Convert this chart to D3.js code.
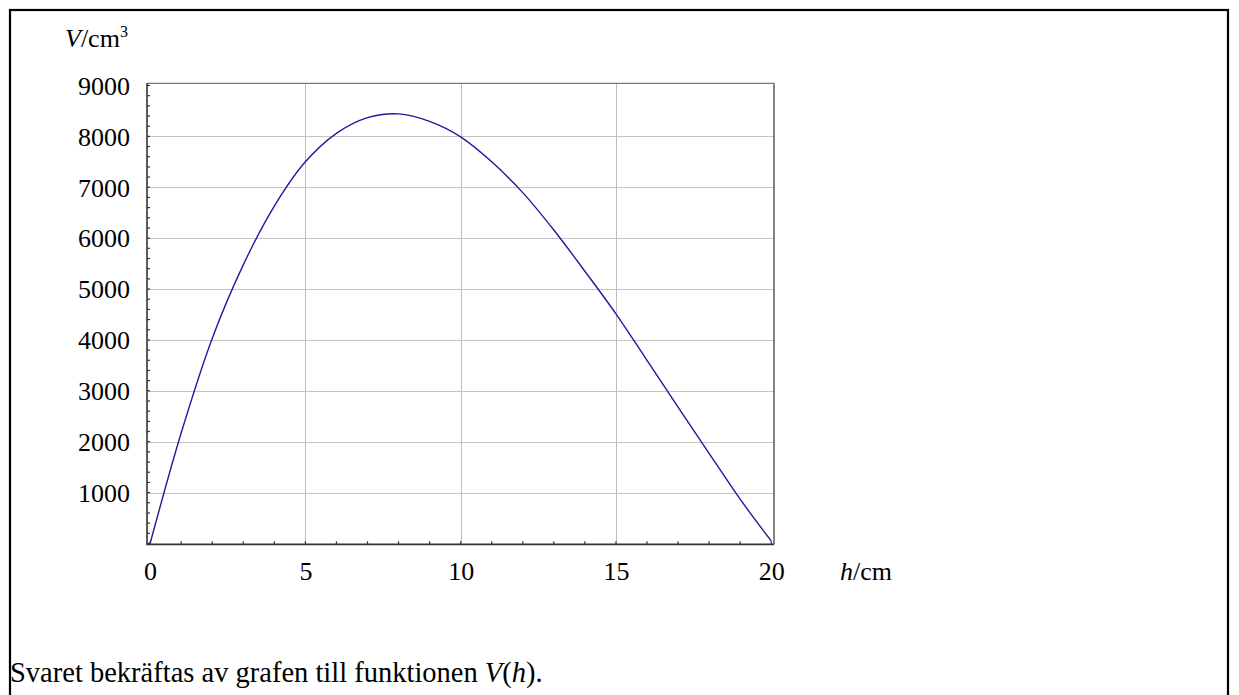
<!DOCTYPE html>
<html>
<head>
<meta charset="utf-8">
<script src="https://cdn.jsdelivr.net/npm/d3@7"></script>
<style>
  html, body { margin: 0; padding: 0; background: #fff; }
  svg { display: block; }
  text { font-family: "Liberation Serif", "Times New Roman", serif; fill: #000; }
</style>
</head>
<body>
<svg id="chart" width="1239" height="695"></svg>
<script>
// Volume V (cm^3) as a function of height h (cm)
const hValues = [0, 1, 2, 3, 4, 5, 6, 7, 8, 9, 10, 11, 12, 13, 14, 15, 16, 17, 18, 19, 20];
const vValues = [0, 2170, 4030, 5475, 6630, 7500, 8060, 8369, 8443, 8295, 7990, 7500, 6895, 6160, 5350, 4513, 3600, 2680, 1770, 870, 50];

const xTickValues = [0, 5, 10, 15, 20];
const yTickValues = [1000, 2000, 3000, 4000, 5000, 6000, 7000, 8000, 9000];
const xMinorTicks = d3.range(0, 21, 1);
const yMinorTicks = d3.range(0, 9001, 200);

const xLabel = "h";
const xUnit = "/cm";
const yLabel = "V";
const yUnit = "/cm";
const caption = "Svaret bekräftas av grafen till funktionen ";

const svg = d3.select("#chart");

// outer frame
svg.append("rect")
  .attr("x", 10).attr("y", 10)
  .attr("width", 1218).attr("height", 700)
  .attr("fill", "none").attr("stroke", "#000").attr("stroke-width", 2.2);

const plot = { left: 147, right: 774, top: 83.3, bottom: 544.3 };

const x = d3.scaleLinear().domain([-0.1, 20.09]).range([plot.left, plot.right]);
const y = d3.scaleLinear().domain([-16, 9043]).range([plot.bottom, plot.top]);

// grid
const grid = svg.append("g");
grid.selectAll("line.gx").data(xTickValues.filter(d => d > 0 && d < 20)).join("line")
  .attr("x1", d => Math.round(x(d)) + 0.5).attr("x2", d => Math.round(x(d)) + 0.5)
  .attr("y1", plot.top).attr("y2", plot.bottom)
  .attr("stroke", "#bdbdbd").attr("stroke-width", 1);
grid.selectAll("line.gy").data(yTickValues.filter(d => d < 9000)).join("line")
  .attr("y1", d => Math.round(y(d)) + 0.5).attr("y2", d => Math.round(y(d)) + 0.5)
  .attr("x1", plot.left).attr("x2", plot.right)
  .attr("stroke", "#c4c4c4").attr("stroke-width", 1.2);

// plot frame: top and right thin
svg.append("line").attr("x1", plot.left).attr("x2", plot.right)
  .attr("y1", plot.top).attr("y2", plot.top).attr("stroke", "#555").attr("stroke-width", 1);
svg.append("line").attr("x1", plot.right).attr("x2", plot.right)
  .attr("y1", plot.top).attr("y2", plot.bottom).attr("stroke", "#333").attr("stroke-width", 1.2);

// minor ticks along the axes, pointing into the plot
svg.append("g").selectAll("line").data(xMinorTicks).join("line")
  .attr("x1", d => x(d)).attr("x2", d => x(d))
  .attr("y1", plot.bottom).attr("y2", plot.bottom - 3)
  .attr("stroke", "#333").attr("stroke-width", 1.2);
svg.append("g").selectAll("line").data(yMinorTicks).join("line")
  .attr("y1", d => y(d)).attr("y2", d => y(d))
  .attr("x1", plot.left).attr("x2", plot.left + 3)
  .attr("stroke", "#333").attr("stroke-width", 1.2);

// axes lines (left and bottom)
svg.append("line").attr("x1", plot.left).attr("x2", plot.left)
  .attr("y1", plot.top).attr("y2", plot.bottom + 1).attr("stroke", "#333").attr("stroke-width", 1.6);
svg.append("line").attr("x1", plot.left).attr("x2", plot.right)
  .attr("y1", plot.bottom).attr("y2", plot.bottom).attr("stroke", "#333").attr("stroke-width", 1.8);

// tick labels via d3 axes without lines
const xAxis = d3.axisBottom(x).tickValues(xTickValues).tickFormat(d3.format("d")).tickSize(0).tickPadding(0);
const gx = svg.append("g").attr("transform", `translate(0, ${plot.bottom})`).call(xAxis);
gx.select(".domain").remove();
gx.selectAll("text").attr("font-family", "Liberation Serif").attr("font-size", 26)
  .attr("fill", "#000").attr("dy", null).attr("y", 36);

const yAxis = d3.axisLeft(y).tickValues(yTickValues).tickFormat(d3.format("d")).tickSize(0).tickPadding(0);
const gy = svg.append("g").attr("transform", `translate(130, 0)`).call(yAxis);
gy.select(".domain").remove();
gy.selectAll("text").attr("font-family", "Liberation Serif").attr("font-size", 26)
  .attr("fill", "#000").attr("dy", "0.34em").attr("x", 0);

// axis titles
const xt = svg.append("text").attr("x", 840).attr("y", 580).attr("font-size", 26);
xt.append("tspan").attr("font-style", "italic").text(xLabel);
xt.append("tspan").text(xUnit);

const yt = svg.append("text").attr("x", 65).attr("y", 47).attr("font-size", 26);
yt.append("tspan").attr("font-style", "italic").text(yLabel);
yt.append("tspan").text(yUnit);
yt.append("tspan").attr("font-size", 16).attr("dy", -10).text("3");

// curve
const pts = hValues.map((h, i) => [h, vValues[i]]);
const line = d3.line().x(d => x(d[0])).y(d => y(d[1])).curve(d3.curveCatmullRom.alpha(0.5));
svg.append("path").datum(pts)
  .attr("d", line).attr("fill", "none")
  .attr("stroke", "#1c1c9c").attr("stroke-width", 1.4);

// caption
const cap = svg.append("text").attr("x", 10).attr("y", 682).attr("font-size", 28.5);
cap.append("tspan").text(caption);
cap.append("tspan").attr("font-style", "italic").text("V");
cap.append("tspan").text("(");
cap.append("tspan").attr("font-style", "italic").text("h");
cap.append("tspan").text(").");
</script>
</body>
</html>
